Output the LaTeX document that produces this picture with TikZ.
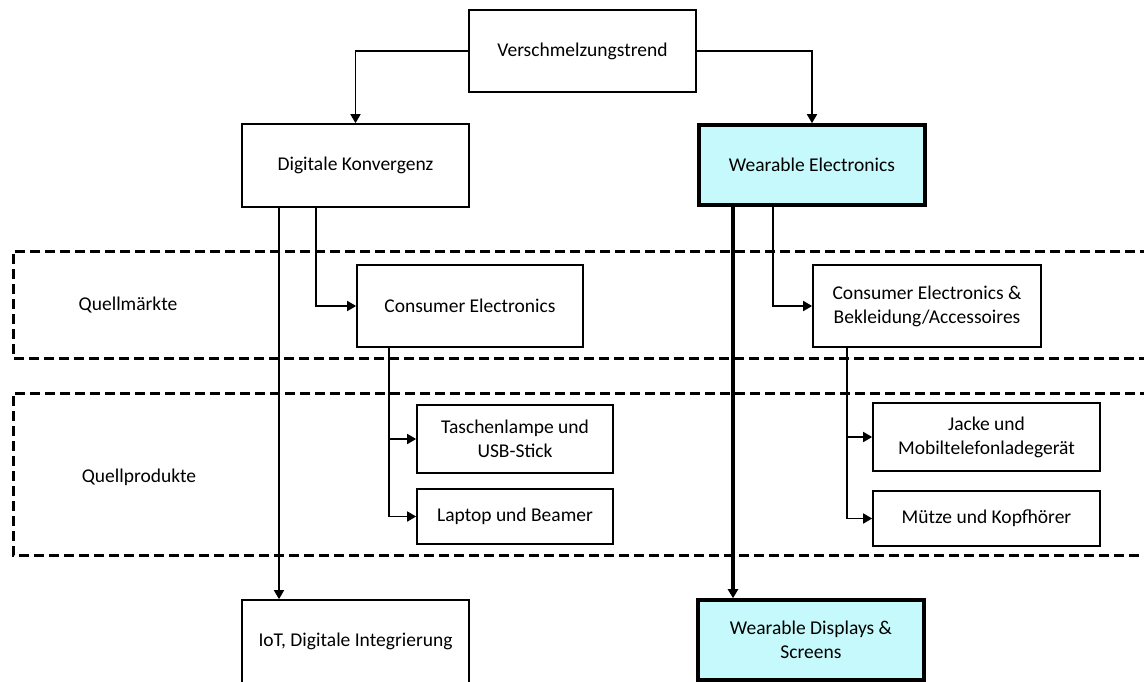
\documentclass[tikz,border=0pt]{standalone}
\usepackage{fontspec}
\setmainfont{Carlito}
\usetikzlibrary{arrows.meta,positioning,calc}
\definecolor{wecyan}{RGB}{197,249,252}
\begin{document}
\begin{tikzpicture}[x=1pt,y=-1pt,
  font=\fontsize{19.5}{23.8}\selectfont,
  box/.style={draw=black,line width=1.7pt,fill=white,align=center,inner sep=0pt},
  hibox/.style={draw=black,line width=3.6pt,fill=wecyan,align=center,inner sep=0pt},
  band/.style={draw=black,line width=3pt,dash pattern=on 10pt off 5pt},
  conn/.style={line width=1.7pt,-{Triangle[length=9pt,width=10pt]}},
  thickconn/.style={line width=3.2pt,-{Triangle[length=9pt,width=10pt]}},
  lbl/.style={inner sep=0pt}]
\clip (0,0) rectangle (1144,681);
% bands
\draw[band] (1180,251) -- (13,251) -- (13,358) -- (1180,358);
\draw[band] (1180,393) -- (13,393) -- (13,555) -- (1180,555);
\node[lbl] (qm) at (128,305) {Quellmärkte};
\node[lbl] (qp) at (139,477) {Quellprodukte};
% nodes
\node[box,minimum width=227pt,minimum height=82pt] (vt) at (582.5,51) {Verschmelzungstrend};
\node[box,minimum width=227pt,minimum height=83pt] (dk) at (355.5,165.5) {Digitale Konvergenz};
\node[hibox,minimum width=226pt,minimum height=80pt] (we) at (812,165) {Wearable Electronics};
\node[box,minimum width=226pt,minimum height=82pt] (ce) at (470,306) {Consumer Electronics};
\node[box,minimum width=228pt,minimum height=82pt] (cea) at (927,306) {Consumer Electronics \&\\Bekleidung/Accessoires};
\node[box,minimum width=196pt,minimum height=68pt] (tl) at (515,439) {Taschenlampe und\\USB-Stick};
\node[box,minimum width=196pt,minimum height=55pt] (lb) at (515,516.5) {Laptop und Beamer};
\node[box,minimum width=227pt,minimum height=68pt] (jm) at (986.5,437) {Jacke und\\Mobiltelefonladegerät};
\node[box,minimum width=227pt,minimum height=55pt] (mk) at (986.5,518.5) {Mütze und Kopfhörer};
\node[box,minimum width=227pt,minimum height=83pt] (iot) at (355.5,641.5) {IoT, Digitale Integrierung};
\node[hibox,minimum width=226pt,minimum height=80pt] (wd) at (811,640) {Wearable Displays \&\\Screens};
% connectors
\draw[conn] (vt.west) -| (dk.north);
\draw[conn] (vt.east) -| (we.north);
\draw[conn] ([xshift=-76.5pt]dk.south) -- ([xshift=-76.5pt]iot.north);
\draw[conn] ([xshift=-39.5pt]dk.south) |- (ce.west);
\draw[conn] ([xshift=-81pt]ce.south) |- (tl.west);
\draw[conn] ([xshift=-81pt]ce.south) |- (lb.west);
\draw[thickconn] ([xshift=-79pt]we.south) -- ([xshift=-78pt]wd.north);
\draw[conn] ([xshift=-39pt]we.south) |- (cea.west);
\draw[conn] ([xshift=-80pt]cea.south) |- (jm.west);
\draw[conn] ([xshift=-80pt]cea.south) |- (mk.west);
\end{tikzpicture}
\end{document}
